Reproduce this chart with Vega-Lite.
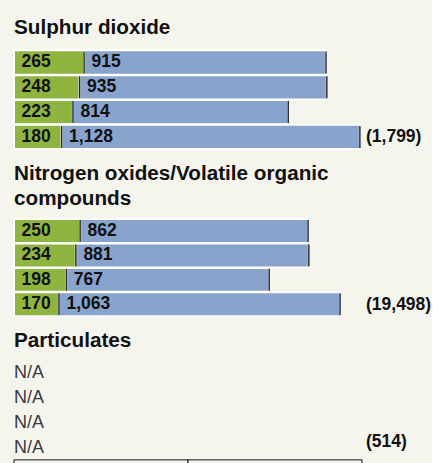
{
  "$schema": "https://vega.github.io/schema/vega-lite/v6.json",
  "background": "#f5f5ee",
  "padding": {"left": 13, "top": 16.35, "right": 0, "bottom": 0},
  "config": {"view": {"stroke": null}},
  "datasets": {
    "emissions": [
      {"section": "SO2", "row": 1, "segment": "a", "value": 265},
      {"section": "SO2", "row": 1, "segment": "b", "value": 915},
      {"section": "SO2", "row": 2, "segment": "a", "value": 248},
      {"section": "SO2", "row": 2, "segment": "b", "value": 935},
      {"section": "SO2", "row": 3, "segment": "a", "value": 223},
      {"section": "SO2", "row": 3, "segment": "b", "value": 814},
      {"section": "SO2", "row": 4, "segment": "a", "value": 180},
      {"section": "SO2", "row": 4, "segment": "b", "value": 1128},
      {"section": "NOx", "row": 1, "segment": "a", "value": 250},
      {"section": "NOx", "row": 1, "segment": "b", "value": 862},
      {"section": "NOx", "row": 2, "segment": "a", "value": 234},
      {"section": "NOx", "row": 2, "segment": "b", "value": 881},
      {"section": "NOx", "row": 3, "segment": "a", "value": 198},
      {"section": "NOx", "row": 3, "segment": "b", "value": 767},
      {"section": "NOx", "row": 4, "segment": "a", "value": 170},
      {"section": "NOx", "row": 4, "segment": "b", "value": 1063}
    ],
    "totals": [
      {"section": "SO2", "row": 4, "label": "(1,799)"},
      {"section": "NOx", "row": 4, "label": "(19,498)"},
      {"section": "PM", "row": 4, "label": "(514)"}
    ],
    "missing": [
      {"section": "PM", "row": 1, "label": "N/A"},
      {"section": "PM", "row": 2, "label": "N/A"},
      {"section": "PM", "row": 3, "label": "N/A"},
      {"section": "PM", "row": 4, "label": "N/A"}
    ],
    "boxcells": [
      {"col": "a"},
      {"col": "b"}
    ]
  },
  "spacing": 11.75,
  "vconcat": [
    {
      "title": {"text": "Sulphur dioxide", "anchor": "start", "frame": "group", "font": "Liberation Sans", "fontSize": 20.7, "fontWeight": "bold", "color": "#111111", "offset": 10.95},
      "spacing": 0,
      "hconcat": [
        {
          "width": 348, "height": 100.7,
          "data": {"name": "emissions"},
          "transform": [
            {"filter": "datum.section == 'SO2'"},
            {"stack": "value", "groupby": ["row"], "sort": [{"field": "segment"}], "as": ["v0", "v1"]}
          ],
          "encoding": {
            "y": {"field": "row", "type": "ordinal", "axis": null, "scale": {"domain": [1, 2, 3, 4], "paddingInner": 0.02, "paddingOuter": 0.04}}
          },
          "layer": [
            {
              "mark": {"type": "bar", "stroke": "#ffffff", "strokeWidth": 2},
              "encoding": {
                "x": {"field": "v0", "type": "quantitative", "axis": null, "scale": {"domain": [0, 1316], "nice": false}},
                "x2": {"field": "v1"},
                "color": {"field": "segment", "type": "nominal", "legend": null, "scale": {"domain": ["a", "b"], "range": ["#8fb540", "#88a3cc"]}}
              }
            },
            {
              "transform": [{"filter": "datum.segment == 'b'"}],
              "mark": {"type": "tick", "orient": "vertical", "color": "#2b2b2b", "thickness": 1.5, "size": 22, "opacity": 1},
              "encoding": {"x": {"field": "v0", "type": "quantitative"}}
            },
            {
              "transform": [{"filter": "datum.segment == 'b'"}],
              "mark": {"type": "tick", "orient": "vertical", "color": "#2b2b2b", "thickness": 1.5, "size": 22, "opacity": 1},
              "encoding": {"x": {"field": "v1", "type": "quantitative"}}
            },
            {
              "mark": {"type": "text", "align": "left", "baseline": "middle", "dx": 7.5, "font": "Liberation Sans", "fontSize": 17.5, "fontWeight": "bold", "color": "#111111"},
              "encoding": {
                "x": {"field": "v0", "type": "quantitative"},
                "text": {"field": "value", "type": "quantitative", "format": ","}
              }
            }
          ]
        },
        {
          "width": 8, "height": 100.7,
          "data": {"name": "totals"},
          "transform": [{"filter": "datum.section == 'SO2'"}],
          "mark": {"type": "text", "align": "left", "baseline": "middle", "font": "Liberation Sans", "fontSize": 17.5, "fontWeight": "bold", "color": "#111111"},
          "encoding": {
            "y": {"field": "row", "type": "ordinal", "axis": null, "scale": {"domain": [1, 2, 3, 4], "paddingInner": 0.02, "paddingOuter": 0.04}},
            "text": {"field": "label", "type": "nominal"}
          }
        }
      ]
    },
    {
      "title": {"text": ["Nitrogen oxides/Volatile organic", "compounds"], "lineHeight": 25, "anchor": "start", "frame": "group", "font": "Liberation Sans", "fontSize": 20.7, "fontWeight": "bold", "color": "#111111", "offset": 8.5},
      "spacing": 0,
      "hconcat": [
        {
          "width": 348, "height": 99.1,
          "data": {"name": "emissions"},
          "transform": [
            {"filter": "datum.section == 'NOx'"},
            {"stack": "value", "groupby": ["row"], "sort": [{"field": "segment"}], "as": ["v0", "v1"]}
          ],
          "encoding": {
            "y": {"field": "row", "type": "ordinal", "axis": null, "scale": {"domain": [1, 2, 3, 4], "paddingInner": 0.02, "paddingOuter": 0.04}}
          },
          "layer": [
            {
              "mark": {"type": "bar", "stroke": "#ffffff", "strokeWidth": 2},
              "encoding": {
                "x": {"field": "v0", "type": "quantitative", "axis": null, "scale": {"domain": [0, 1316], "nice": false}},
                "x2": {"field": "v1"},
                "color": {"field": "segment", "type": "nominal", "legend": null, "scale": {"domain": ["a", "b"], "range": ["#8fb540", "#88a3cc"]}}
              }
            },
            {
              "transform": [{"filter": "datum.segment == 'b'"}],
              "mark": {"type": "tick", "orient": "vertical", "color": "#2b2b2b", "thickness": 1.5, "size": 22, "opacity": 1},
              "encoding": {"x": {"field": "v0", "type": "quantitative"}}
            },
            {
              "transform": [{"filter": "datum.segment == 'b'"}],
              "mark": {"type": "tick", "orient": "vertical", "color": "#2b2b2b", "thickness": 1.5, "size": 22, "opacity": 1},
              "encoding": {"x": {"field": "v1", "type": "quantitative"}}
            },
            {
              "mark": {"type": "text", "align": "left", "baseline": "middle", "dx": 7.5, "font": "Liberation Sans", "fontSize": 17.5, "fontWeight": "bold", "color": "#111111"},
              "encoding": {
                "x": {"field": "v0", "type": "quantitative"},
                "text": {"field": "value", "type": "quantitative", "format": ","}
              }
            }
          ]
        },
        {
          "width": 8, "height": 99.1,
          "data": {"name": "totals"},
          "transform": [{"filter": "datum.section == 'NOx'"}],
          "mark": {"type": "text", "align": "left", "baseline": "middle", "font": "Liberation Sans", "fontSize": 17.5, "fontWeight": "bold", "color": "#111111"},
          "encoding": {
            "y": {"field": "row", "type": "ordinal", "axis": null, "scale": {"domain": [1, 2, 3, 4], "paddingInner": 0.02, "paddingOuter": 0.04}},
            "text": {"field": "label", "type": "nominal"}
          }
        }
      ]
    },
    {
      "spacing": 2,
      "vconcat": [
        {
          "title": {"text": "Particulates", "anchor": "start", "frame": "group", "font": "Liberation Sans", "fontSize": 20.7, "fontWeight": "bold", "color": "#111111", "offset": 3.3},
          "spacing": 0,
          "hconcat": [
            {
              "width": 348, "height": 99.1,
              "data": {"name": "missing"},
              "mark": {"type": "text", "align": "left", "baseline": "alphabetic", "dy": 11, "font": "Liberation Sans", "fontSize": 18, "color": "#3a3a3a"},
              "encoding": {
                "x": {"datum": 0, "type": "quantitative", "axis": null, "scale": {"domain": [0, 1316], "nice": false}},
                "y": {"field": "row", "type": "ordinal", "axis": null, "scale": {"domain": [1, 2, 3, 4], "paddingInner": 0.02, "paddingOuter": 0.04}},
                "text": {"field": "label", "type": "nominal"}
              }
            },
            {
              "width": 8, "height": 99.1,
              "data": {"name": "totals"},
              "transform": [{"filter": "datum.section == 'PM'"}],
              "mark": {"type": "text", "align": "left", "baseline": "middle", "font": "Liberation Sans", "fontSize": 17.5, "fontWeight": "bold", "color": "#111111"},
              "encoding": {
                "y": {"field": "row", "type": "ordinal", "axis": null, "scale": {"domain": [1, 2, 3, 4], "paddingInner": 0.02, "paddingOuter": 0.04}},
                "text": {"field": "label", "type": "nominal"}
              }
            }
          ]
        },
        {
          "width": 348, "height": 30,
          "data": {"name": "boxcells"},
          "mark": {"type": "rect", "fill": "#f5f5ee", "stroke": "#111111", "strokeWidth": 1},
          "encoding": {
            "x": {"field": "col", "type": "nominal", "axis": null, "scale": {"paddingInner": 0, "paddingOuter": 0}}
          }
        }
      ]
    }
  ]
}
